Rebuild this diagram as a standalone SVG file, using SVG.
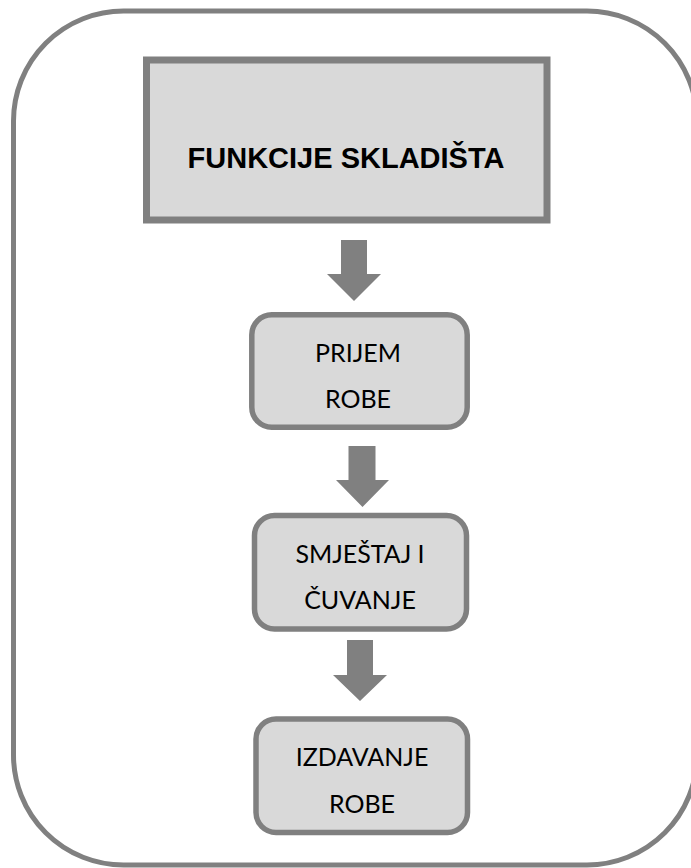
<svg xmlns="http://www.w3.org/2000/svg" width="691" height="868" viewBox="0 0 691 868">
<style>
.frame{fill:#ffffff;stroke:#808080;stroke-width:5}
.title{fill:#d9d9d9;stroke:#808080;stroke-width:7}
.box{fill:#d9d9d9;stroke:#808080;stroke-width:5.5}
.arrow{fill:#808080;stroke:none}
.tt{font-family:"Liberation Sans",Arial,sans-serif;font-weight:bold;font-size:29px;fill:#000;text-anchor:middle}
.bt{font-family:Lato,"Open Sans",sans-serif;font-size:25px;fill:#000;text-anchor:middle}
</style>
<rect width="691" height="868" fill="#ffffff"/>
<rect id="frame" class="frame" x="13.5" y="11" width="683.5" height="854" rx="110" ry="110"/>
<g id="node-title">
<rect class="title" x="146.5" y="60" width="400.5" height="160"/>
<text class="tt" x="346" y="168">FUNKCIJE SKLADIŠTA</text>
</g>
<g id="node-prijem">
<rect class="box" x="251.8" y="314.8" width="215.4" height="112.4" rx="20"/>
<text class="bt" x="358" y="362">PRIJEM</text>
<text class="bt" x="358" y="408">ROBE</text>
</g>
<g id="node-smjestaj">
<rect class="box" x="254.5" y="515.5" width="212" height="113.5" rx="20"/>
<text class="bt" x="360" y="563">SMJEŠTAJ I</text>
<text class="bt" x="360" y="609">ČUVANJE</text>
</g>
<g id="node-izdavanje">
<rect class="box" x="256" y="719" width="211.5" height="113.5" rx="20"/>
<text class="bt" x="362" y="766">IZDAVANJE</text>
<text class="bt" x="362" y="813">ROBE</text>
</g>
<g id="connectors">
<polygon class="arrow" points="341,240 367,240 367,274 381,274 354,301 327,274 341,274"/>
<polygon class="arrow" points="348.5,446 375.5,446 375.5,480 389,480 362.5,507 336,480 348.5,480"/>
<polygon class="arrow" points="347,640 373,640 373,675 387,675 360,701 333,675 347,675"/>
</g>
</svg>
